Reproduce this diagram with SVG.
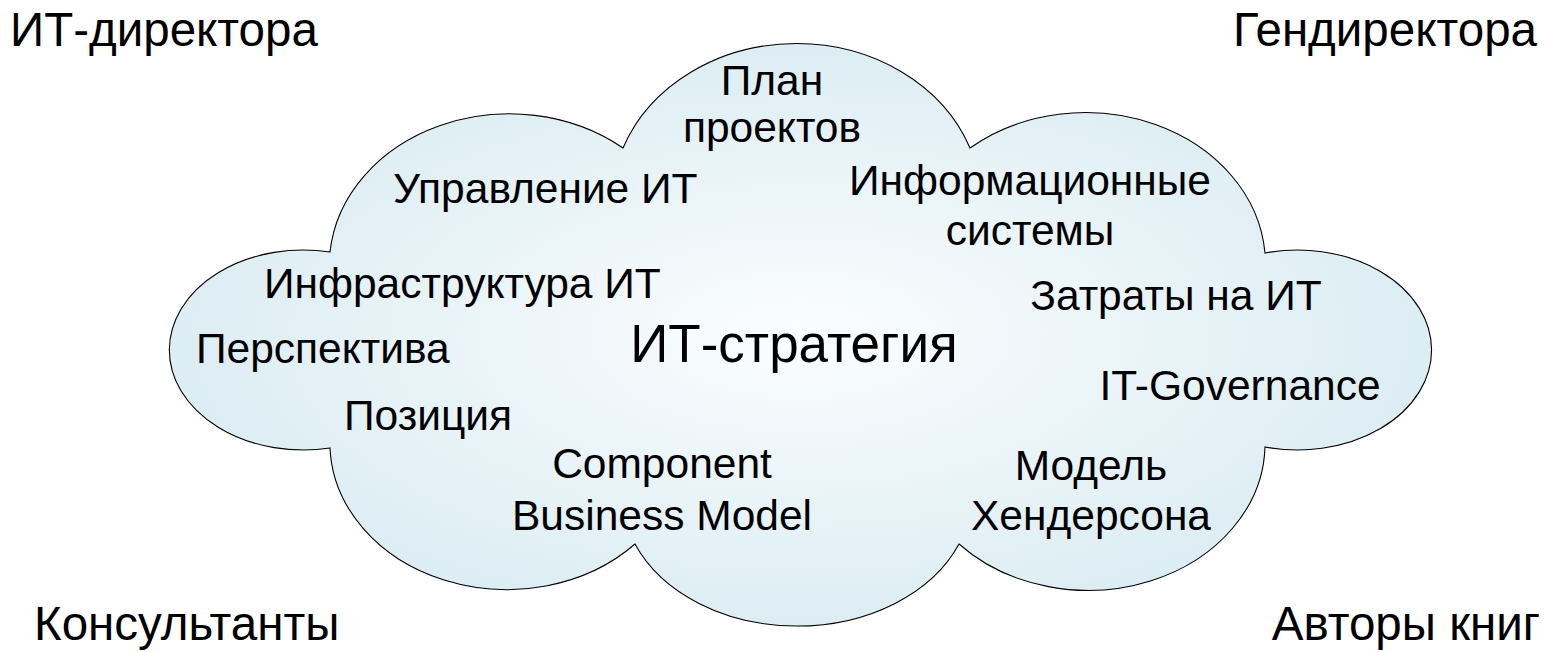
<svg xmlns="http://www.w3.org/2000/svg" width="1545" height="652" viewBox="0 0 1545 652">
<defs>
<radialGradient id="cg" cx="0.5" cy="0.5" r="0.5">
<stop offset="0" stop-color="#fbfdfe"/>
<stop offset="1" stop-color="#dcedf3"/>
</radialGradient>
</defs>
<style>
text{font-family:"Liberation Sans",Arial,sans-serif;fill:#000}
.in{font-size:42.5px}
.mid{text-anchor:middle}
.corner{font-size:47.5px}
.end{text-anchor:end}
.main{font-size:53px;text-anchor:middle}
</style>
<rect width="1545" height="652" fill="#fff"/>
<g id="cloud">
<path d="M330,252 A180,152 0 0 1 623,148 A185,160 0 0 1 970,148 A180,152 0 0 1 1265,253 A134,100 0 1 1 1265,447 A177,147 0 0 1 959,544 A175,132 0 0 1 635,544 A177,147 0 0 1 330,448 A134,100 0 1 1 330,252 Z" fill="url(#cg)" stroke="#000" stroke-width="1.1"/>
</g>
<g id="label-corners">
<text class="corner" x="10" y="46">ИТ-директора</text>
<text class="corner end" x="1537" y="46">Гендиректора</text>
<text class="corner" x="34" y="640">Консультанты</text>
<text class="corner end" x="1540" y="640">Авторы книг</text>
</g>
<g id="node-main"><text class="main" x="794" y="362">ИТ-стратегия</text></g>
<g id="node-plan"><text class="in mid" x="772" y="95">План</text><text class="in mid" x="772" y="142">проектов</text></g>
<g id="node-upr"><text class="in" x="393" y="203">Управление ИТ</text></g>
<g id="node-infra"><text class="in" x="264" y="298">Инфраструктура ИТ</text></g>
<g id="node-persp"><text class="in" x="196" y="363">Перспектива</text></g>
<g id="node-pos"><text class="in" x="344" y="430">Позиция</text></g>
<g id="node-cbm"><text class="in mid" x="662" y="478">Component</text><text class="in mid" x="662" y="530">Business Model</text></g>
<g id="node-is"><text class="in mid" x="1030" y="195">Информационные</text><text class="in mid" x="1030" y="245">системы</text></g>
<g id="node-cost"><text class="in mid" x="1176" y="310">Затраты на ИТ</text></g>
<g id="node-gov"><text class="in mid" x="1240" y="400">IT-Governance</text></g>
<g id="node-hend"><text class="in mid" x="1091" y="480">Модель</text><text class="in mid" x="1091" y="530">Хендерсона</text></g>
</svg>
